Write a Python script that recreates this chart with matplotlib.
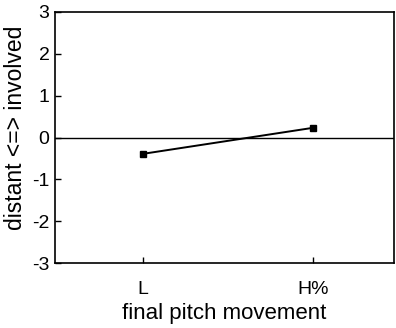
import matplotlib.pyplot as plt

plt.rcParams['font.family'] = ['Liberation Sans', 'DejaVu Sans']
plt.rcParams['axes.unicode_minus'] = False

categories = ['L', 'H%']
values = [-0.39, 0.23]
yticks = [-3, -2, -1, 0, 1, 2, 3]

fig = plt.figure(figsize=(3.96, 3.28), dpi=100)
ax = fig.add_axes([55/396, 1 - 263/328, (394-55)/396, (263-12)/328])

x = [1, 2]
ax.axhline(0, color='black', lw=1.0)
ax.plot(x, values, color='black', lw=1.4, marker='s', markersize=4.5)

ax.set_xlim(0.48, 2.48)
ax.set_ylim(-3, 3)
ax.set_xticks(x)
ax.set_xticklabels(categories)
ax.set_yticks(yticks)
ax.tick_params(direction='in', length=4, width=1, labelsize=14)
ax.tick_params(axis='x', pad=13)
ax.tick_params(axis='y', pad=4)
for s in ax.spines.values():
    s.set_linewidth(1.2)

ax.set_xlabel('final pitch movement', fontsize=16)
ax.xaxis.set_label_coords(0.5, -0.16)
ax.set_ylabel('distant <=> involved', fontsize=16.5)
ax.yaxis.set_label_coords(-0.083, 0.538)

fig.savefig('out.png', dpi=100)
